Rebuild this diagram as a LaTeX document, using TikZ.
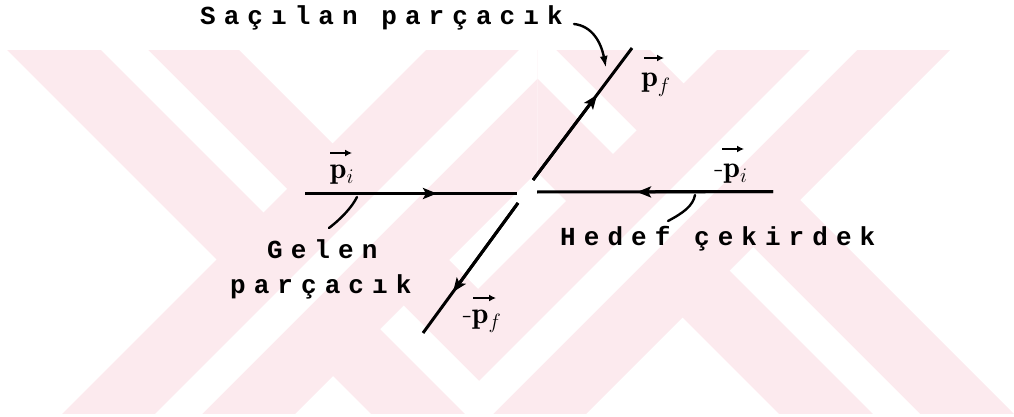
\documentclass[tikz,border=0pt]{standalone}
\usepackage{fontspec}
\newfontfamily\twfont{Liberation Mono}[LetterSpace=31]
\usetikzlibrary{arrows.meta}
\definecolor{wm}{RGB}{252,234,238}
\tikzset{
  lbl/.style={font=\twfont\bfseries\fontsize{26}{30}\selectfont, inner sep=0pt, anchor=base west},
  vlabel/.style={font=\fontsize{30}{30}\selectfont, inner sep=0pt, anchor=base},
  vecarrow/.style={line width=2.4pt, -{Latex[length=7pt,width=7pt]}},
  ray/.style={line width=3pt},
  rayarrow/.style={line width=3pt, -{Stealth[length=14pt,width=11pt,inset=3pt]}},
  pointer/.style={line width=2.4pt, line cap=round},
}
\begin{document}
\begin{tikzpicture}[x=1pt,y=-1pt]
\useasboundingbox (0,0) rectangle (1014,417);
% watermark
\begin{scope}
  \clip (0,51) rectangle (1014,413);
  \begin{scope}
    \clip (537.5,0) rectangle (1100,500);
    \fill[wm] (46,430) -- (538,-62) -- (1030,430) -- (795,430) -- (537,172) -- (279,430) -- cycle;
    \fill[white] (139,430) -- (537.5,31.5) -- (936,430) -- (889,430) -- (537.5,78.5) -- (186,430) -- cycle;
  \end{scope}
  \fill[wm] (-3,40) -- (229,40) -- (478,289) -- (727,40) -- (960,40) -- (478.5,521.5) -- cycle;
  \fill[white] (91,40) -- (138,40) -- (479,381) -- (820,40) -- (867,40) -- (479,428) -- cycle;
  \begin{scope}
    \clip (-10,0) rectangle (537.5,500);
    \fill[wm] (46,430) -- (538,-62) -- (1030,430) -- (795,430) -- (537,172) -- (279,430) -- cycle;
    \fill[white] (139,430) -- (537.5,31.5) -- (936,430) -- (889,430) -- (537.5,78.5) -- (186,430) -- cycle;
  \end{scope}
\end{scope}

% coordinates of the rays
\coordinate (Ls) at (305,193.5);
\coordinate (Le) at (517,193.5);
\coordinate (La) at (437,193.5);
\coordinate (Rs) at (773,191.5);
\coordinate (Re) at (537,192);
\coordinate (Ra) at (637,192);
\coordinate (Us) at (533,180);
\coordinate (Ue) at (632,48);
\coordinate (Ua) at (597,95);
\coordinate (Ds) at (518,203);
\coordinate (De) at (423,333);
\coordinate (Da) at (453,292);

\draw[ray] (Ls) -- (Le);
\draw[rayarrow] (Ls) -- (La);
\draw[ray] (Rs) -- (Re);
\draw[rayarrow] (Rs) -- (Ra);
\draw[ray] (Us) -- (Ue);
\draw[rayarrow] (Us) -- (Ua);
\draw[ray] (Ds) -- (De);
\draw[rayarrow] (Ds) -- (Da);

% texts
\node[lbl] (sac) at (200,25) {Saçılan parçacık};
\node[lbl] (gel1) at (267,258) {Gelen};
\node[lbl] (gel2) at (230,293) {parçacık};
\node[lbl] (hed) at (560,245) {Hedef çekirdek};

% momentum labels (p with a drawn vector arrow)
\node[vlabel] (pi) at (342,178) {$\mathbf{p}_{i}$};
\draw[vecarrow] ([shift={(-12,-25)}]pi.base) -- ([shift={(10,-25)}]pi.base);
\node[vlabel] (mpi) at (731,177) {-$\mathbf{p}_{i}$};
\draw[vecarrow] ([shift={(-9,-28)}]mpi.base) -- ([shift={(13,-28)}]mpi.base);
\node[vlabel] (pf) at (656,87) {$\mathbf{p}_{f}$};
\draw[vecarrow] ([shift={(-12,-29)}]pf.base) -- ([shift={(8,-29)}]pf.base);
\node[vlabel] (mpf) at (482,323) {-$\mathbf{p}_{f}$};
\draw[vecarrow] ([shift={(-9,-25)}]mpf.base) -- ([shift={(14,-25)}]mpf.base);

% pointers
\coordinate (sacEnd) at (574,24);
\coordinate (sacTip) at (606,68);
\draw[pointer, -{Latex[length=12pt,width=8pt]}] (sacEnd) .. controls (592,26) and (601,42) .. (sacTip);
\coordinate (gelTop) at (357,197);
\coordinate (gelBot) at (329,228);
\draw[pointer] (gelTop) .. controls (352,207) and (342,218) .. (gelBot);
\coordinate (hedTop) at (695,195);
\coordinate (hedBot) at (668,221);
\draw[pointer] (hedTop) .. controls (693,206) and (683,213) .. (hedBot);
\end{tikzpicture}
\end{document}
